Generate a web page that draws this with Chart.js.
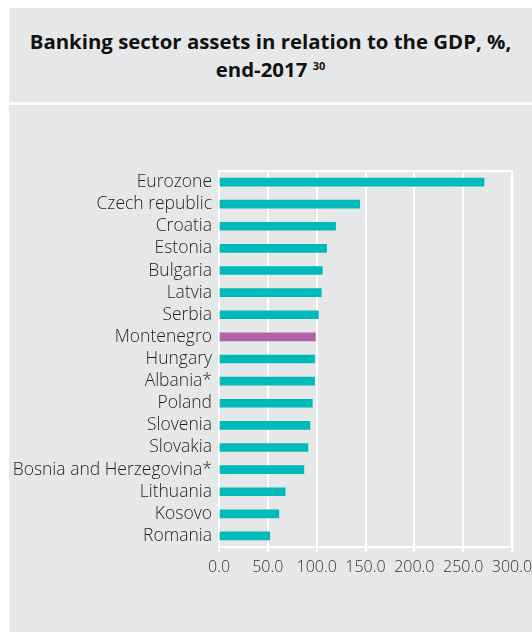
<!DOCTYPE html>
<html>
<head>
<meta charset="utf-8">
<script src="https://cdn.jsdelivr.net/npm/chart.js@4"></script>
<style>
  html, body { margin: 0; padding: 0; background: #ffffff; }
  body { width: 532px; height: 632px; position: relative; overflow: hidden; }
  .title-panel {
    position: absolute; left: 9px; top: 8px; width: 523px; height: 94px;
    background: #e6e7e8; display: flex; align-items: center; justify-content: center;
    text-align: center; font-family: "Open Sans", sans-serif; font-weight: 700;
    font-size: 20.4px; line-height: 28px; color: #111;
  }
  .title-panel sup { font-size: 11px; vertical-align: top; position: relative; top: -3px; }
  .chart-panel {
    position: absolute; left: 9px; top: 105px; width: 523px; height: 527px;
    background: #e6e7e8;
  }
</style>
</head>
<body>
<div class="title-panel"><div>Banking sector assets in relation to the GDP, %,<br>end-2017 <sup>30</sup></div></div>
<div class="chart-panel"><canvas id="chart" width="523" height="527"></canvas></div>
<script>
const categories = [
  "Eurozone", "Czech republic", "Croatia", "Estonia", "Bulgaria", "Latvia",
  "Serbia", "Montenegro", "Hungary", "Albania*", "Poland", "Slovenia",
  "Slovakia", "Bosnia and Herzegovina*", "Lithuania", "Kosovo", "Romania"
];
const assetsToGdp = [271.4, 144.0, 119.4, 110.2, 105.8, 104.7, 101.7, 98.6, 97.9, 97.9, 95.5, 93.1, 91.1, 86.9, 67.8, 61.3, 52.0];
const highlighted = "Montenegro";
const xTicks = [0, 50, 100, 150, 200, 250, 300];

const TEAL = "#00b9b9";
const PURPLE = "#b062a6";
const barColors = categories.map(c => c === highlighted ? PURPLE : TEAL);

const labelFont = { family: "'Open Sans', sans-serif", size: 17.5, weight: 300 };

new Chart(document.getElementById("chart"), {
  type: "bar",
  data: {
    labels: categories,
    datasets: [{
      data: assetsToGdp,
      backgroundColor: barColors,
      borderWidth: 0,
      barThickness: 8
    }]
  },
  options: {
    indexAxis: "y",
    responsive: false,
    animation: false,
    layout: { padding: { top: 66, right: 20, bottom: 55, left: 0 } },
    plugins: { legend: { display: false }, tooltip: { enabled: false } },
    scales: {
      x: {
        min: 0, max: 300,
        afterBuildTicks: s => { s.ticks = xTicks.map(v => ({ value: v })); },
        afterFit: s => { s.height = 30; s.paddingLeft = 0; s.paddingRight = 0; },
        grid: { color: "#ffffff", lineWidth: 2, tickLength: 5, tickColor: "#ffffff" },
        border: { color: "#ffffff", width: 2 },
        ticks: {
          color: "#333333", font: { family: "'Open Sans', sans-serif", size: 16, weight: 300 },
          padding: 6, maxRotation: 0, autoSkip: false,
          callback: v => Number(v).toFixed(1)
        }
      },
      xTop: {
        position: "top", axis: "x", min: 0, max: 300,
        grid: { display: false, drawTicks: false },
        border: { color: "#ffffff", width: 2 },
        ticks: { display: false },
        afterFit: s => { s.height = 0; }
      },
      y: {
        afterFit: s => { s.width = 210; },
        grid: { display: false, drawTicks: false },
        border: { color: "#ffffff", width: 2 },
        ticks: { color: "#231f20", font: labelFont, padding: 7, autoSkip: false }
      }
    }
  }
});
</script>
</body>
</html>
